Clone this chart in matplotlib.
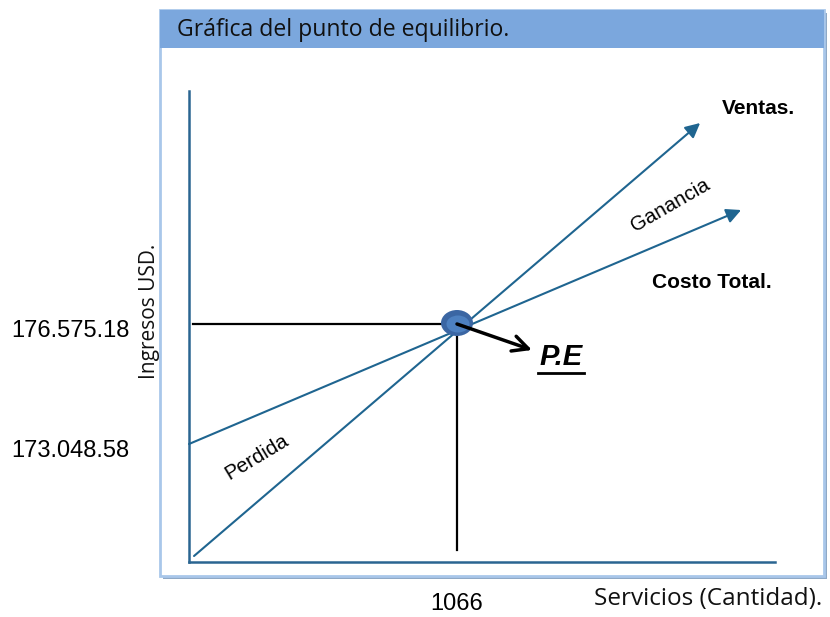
import matplotlib
matplotlib.use("Agg")
import matplotlib.pyplot as plt
from matplotlib.patches import Rectangle, Ellipse
from matplotlib.transforms import ScaledTranslation

# Break-even values
cantidad_pe = 1066
ingreso_pe = 176575.18
costo_fijo = 173048.58

# Sales and total-cost lines (quantity, income)
ventas_x = [20, 2033]
ventas_y = [169757, 182482]
costo_x = [0, 2196]
costo_y = [costo_fijo, 179925]

y_ticks = [costo_fijo, ingreso_pe]
y_tick_labels = ["173.048.58", "176.575.18"]
x_ticks = [cantidad_pe]
x_tick_labels = ["1066"]

W, H = 830, 617
fig = plt.figure(figsize=(W / 100, H / 100), dpi=100)
fig.patch.set_facecolor("white")


def fx(x):
    return x / W


def fy(y):
    return 1 - y / H


# Framed panel with shadow and title bar
frame_l, frame_t, frame_r, frame_b = 160, 10, 824, 576
fig.patches.append(Rectangle((fx(frame_l + 3), fy(frame_b + 3)),
                             fx(frame_r - frame_l), (frame_b - frame_t) / H,
                             transform=fig.transFigure, facecolor="#8fa9c6",
                             edgecolor="none", zorder=0))
fig.patches.append(Rectangle((fx(frame_l), fy(frame_b)),
                             fx(frame_r - frame_l), (frame_b - frame_t) / H,
                             transform=fig.transFigure, facecolor="white",
                             edgecolor="#a9c7ea", linewidth=2, zorder=0.5))
fig.patches.append(Rectangle((fx(frame_l), fy(48)),
                             fx(frame_r - frame_l), (48 - frame_t) / H,
                             transform=fig.transFigure, facecolor="#7ba7dd",
                             edgecolor="none", zorder=0.6))
fig.text(fx(177), fy(30), "Gráfica del punto de equilibrio.", fontsize=16.6,
         family="Open Sans", color="#111111", va="center", ha="left")

# Chart axes
ax_l, ax_r, ax_t, ax_b = 189, 775, 91, 562
ax = fig.add_axes([fx(ax_l), fy(ax_b), fx(ax_r - ax_l), (ax_b - ax_t) / H])
ax.set_zorder(2)
ax.set_facecolor("none")
x_per_px = cantidad_pe / (457 - ax_l)
y_per_px = (ingreso_pe - costo_fijo) / (444 - 324)
ax.set_xlim(0, (ax_r - ax_l) * x_per_px)
ax.set_ylim(ingreso_pe - (ax_b - 324) * y_per_px,
            ingreso_pe + (324 - ax_t) * y_per_px)

axis_color = "#2a6591"
for side in ("top", "right"):
    ax.spines[side].set_visible(False)
for side in ("left", "bottom"):
    ax.spines[side].set_color(axis_color)
    ax.spines[side].set_linewidth(1.8)

ax.set_yticks(y_ticks)
ax.set_yticklabels(y_tick_labels, family="Liberation Sans", fontsize=17)
ax.set_xticks(x_ticks)
ax.set_xticklabels(x_tick_labels, family="Liberation Sans", fontsize=17)
ax.tick_params(axis="y", length=0, pad=43)
ax.tick_params(axis="x", length=0, pad=22)
shift_down = ScaledTranslation(0, -5 / 100, fig.dpi_scale_trans)
for lbl in ax.get_yticklabels():
    lbl.set_transform(lbl.get_transform() + shift_down)

ax.set_xlabel("Servicios (Cantidad).", family="Open Sans", fontsize=17.5,
              color="#111111", ha="center", va="top")
ax.xaxis.set_label_coords((708 - ax_l) / (ax_r - ax_l), -(587 - ax_b) / (ax_b - ax_t))
ax.set_ylabel("Ingresos USD.", family="Open Sans", fontsize=15, color="#111111")
ax.yaxis.set_label_coords(-(ax_l - 160) / (ax_r - ax_l), (ax_b - 311) / (ax_b - ax_t))

line_color = "#1f6590"
for xs, ys in ((ventas_x, ventas_y), (costo_x, costo_y)):
    ax.annotate("", xy=(xs[1], ys[1]), xytext=(xs[0], ys[0]),
                arrowprops=dict(arrowstyle="-|>", color=line_color, lw=1.5,
                                mutation_scale=22, shrinkA=0, shrinkB=0),
                annotation_clip=False)

# Break-even guide lines
ax.plot([4 * x_per_px, cantidad_pe], [ingreso_pe, ingreso_pe], color="black", lw=1.6)
ax.plot([cantidad_pe, cantidad_pe], [ingreso_pe, ingreso_pe - 226 * y_per_px],
        color="black", lw=1.6)

# Break-even marker
ax.add_patch(Ellipse((cantidad_pe, ingreso_pe + 1 * y_per_px), 32 * x_per_px, 26 * y_per_px,
                     facecolor="#3b66a3", edgecolor="none", zorder=5))
ax.add_patch(Ellipse((cantidad_pe + 1 * x_per_px, ingreso_pe), 23 * x_per_px, 17 * y_per_px,
                     facecolor="#4d80c0", edgecolor="none", zorder=6))
ax.annotate("", xy=(cantidad_pe + 75 * x_per_px, ingreso_pe - 26 * y_per_px),
            xytext=(cantidad_pe, ingreso_pe),
            arrowprops=dict(arrowstyle="->", color="black", lw=2.5,
                            mutation_scale=28, shrinkA=0, shrinkB=0),
            zorder=7)

# Labels
fig.text(fx(722), fy(109), "Ventas.", family="Liberation Sans", fontsize=15,
         fontweight="bold", va="center", ha="left")
fig.text(fx(652), fy(283), "Costo Total.", family="Liberation Sans", fontsize=15,
         fontweight="bold", va="center", ha="left")
fig.text(fx(670), fy(205), "Ganancia", family="Liberation Sans", fontsize=14.8,
         rotation=30, va="center", ha="center", rotation_mode="anchor")
fig.text(fx(257), fy(457), "Perdida", family="Liberation Sans", fontsize=14.8,
         rotation=31, va="center", ha="center", rotation_mode="anchor")
fig.text(fx(561), fy(357), "P.E", family="Liberation Sans", fontsize=21,
         fontweight="bold", style="italic", va="center", ha="center")
fig.lines.append(plt.Line2D([fx(538), fx(584)], [fy(373), fy(373)],
                            transform=fig.transFigure, color="black", lw=2))

fig.savefig("out.png", dpi=100, facecolor="white")
